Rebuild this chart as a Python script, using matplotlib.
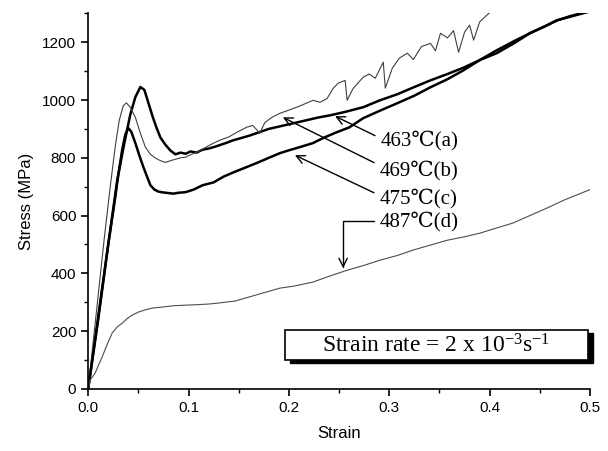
import matplotlib
matplotlib.use("Agg")
import matplotlib.pyplot as plt
from matplotlib.patches import Rectangle
from matplotlib.ticker import MultipleLocator

plt.rcParams['font.family'] = ['Liberation Sans', 'DejaVu Sans']
plt.rcParams['mathtext.default'] = 'regular'

# curve (a) 463C - thick, highest peak
strain_a = [0, 0.01, 0.02, 0.029, 0.036, 0.042, 0.047, 0.052, 0.056, 0.060, 0.064, 0.068,
            0.072, 0.077, 0.082, 0.087, 0.092, 0.097, 0.102, 0.108, 0.114, 0.120, 0.126,
            0.132, 0.138, 0.144, 0.150, 0.160, 0.170, 0.180, 0.190, 0.200, 0.210, 0.220,
            0.230, 0.241, 0.255, 0.274, 0.290, 0.308, 0.325, 0.341, 0.358, 0.374, 0.390,
            0.407, 0.425, 0.440, 0.455, 0.467, 0.480, 0.497, 0.5]
stress_a = [0, 250, 500, 723, 850, 950, 1010, 1045, 1035, 990, 945, 905,
            870, 845, 825, 812, 818, 814, 822, 818, 828, 832, 838,
            845, 852, 860, 866, 876, 888, 900, 908, 916, 924, 932,
            940, 947, 958, 975, 998, 1020, 1045, 1068, 1090, 1112, 1138,
            1162, 1198, 1231, 1255, 1275, 1290, 1305, 1308]

# curve (b) 469C - thin, serrated
strain_b = [0, 0.008, 0.016, 0.022, 0.027, 0.031, 0.035, 0.038, 0.042, 0.047, 0.052, 0.057,
            0.062, 0.067, 0.072, 0.077, 0.082, 0.087, 0.092, 0.097, 0.103, 0.110, 0.118,
            0.125, 0.132, 0.140, 0.148, 0.158, 0.164, 0.171, 0.176, 0.183, 0.191, 0.200,
            0.210, 0.218, 0.224, 0.231, 0.238, 0.244, 0.249, 0.256, 0.258, 0.264, 0.274,
            0.280, 0.286, 0.294, 0.296, 0.303, 0.310, 0.318, 0.324, 0.332, 0.341, 0.346,
            0.351, 0.358, 0.364, 0.369, 0.375, 0.380, 0.384, 0.390, 0.396, 0.403]
stress_b = [0, 260, 520, 700, 840, 930, 980, 990, 975, 940, 885, 837,
            812, 799, 790, 784, 790, 795, 800, 802, 812, 822, 838,
            851, 862, 872, 888, 906, 912, 885, 922, 940, 954, 965,
            978, 990, 999, 992, 1005, 1040, 1058, 1068, 999, 1040, 1079,
            1090, 1075, 1131, 1041, 1110, 1145, 1162, 1140, 1185, 1196, 1170,
            1231, 1215, 1240, 1165, 1235, 1259, 1207, 1270, 1290, 1311]

# curve (c) 475C - thick, lowest peak
strain_c = [0, 0.01, 0.02, 0.026, 0.030, 0.034, 0.037, 0.040, 0.043, 0.047, 0.051, 0.055,
            0.059, 0.062, 0.066, 0.070, 0.075, 0.080, 0.085, 0.090, 0.097, 0.105, 0.114,
            0.125, 0.135, 0.145, 0.158, 0.170, 0.180, 0.191, 0.200, 0.210, 0.224, 0.235,
            0.248, 0.260, 0.274, 0.290, 0.308, 0.325, 0.341, 0.358, 0.374, 0.390, 0.407,
            0.425, 0.440, 0.455, 0.467, 0.480, 0.497, 0.5]
stress_c = [0, 240, 500, 640, 740, 830, 880, 903, 890, 851, 808, 768,
            732, 705, 690, 683, 680, 678, 676, 679, 681, 690, 705,
            715, 735, 750, 768, 785, 800, 816, 826, 836, 851, 870,
            889, 905, 937, 962, 989, 1015, 1044, 1072, 1103, 1138, 1172,
            1205, 1231, 1255, 1276, 1288, 1304, 1306]

# curve (d) 487C - thin, low
strain_d = [0, 0.002, 0.007, 0.010, 0.014, 0.019, 0.024, 0.029, 0.034, 0.039, 0.044, 0.050,
            0.057, 0.064, 0.075, 0.085, 0.097, 0.110, 0.120, 0.129, 0.138, 0.146, 0.160,
            0.175, 0.191, 0.205, 0.224, 0.240, 0.258, 0.275, 0.291, 0.308, 0.324, 0.340,
            0.358, 0.374, 0.390, 0.405, 0.423, 0.440, 0.457, 0.475, 0.490, 0.5]
stress_d = [0, 31, 55, 80, 111, 155, 194, 215, 228, 244, 256, 266,
            274, 280, 284, 288, 290, 292, 294, 297, 301, 304, 318,
            333, 349, 356, 370, 390, 411, 428, 446, 462, 481, 497,
            515, 526, 539, 555, 574, 600, 626, 655, 676, 690]

labels = ['463℃(a)', '469℃(b)', '475℃(c)', '487℃(d)']
label_pos = [(0.291, 861), (0.290, 757), (0.290, 660), (0.290, 581)]
arrow_tip = [(0.246, 944), (0.194, 940), (0.206, 809), (0.254, 418)]

fig = plt.figure(figsize=(6.08, 4.51), dpi=100)
ax = fig.add_axes([0.145, 0.1375, 0.8255, 0.833])

ax.plot(strain_a, stress_a, color='black', lw=1.8)
ax.plot(strain_b, stress_b, color='0.25', lw=0.8)
ax.plot(strain_c, stress_c, color='black', lw=1.8)
ax.plot(strain_d, stress_d, color='0.3', lw=0.8)

serif = ['Liberation Serif', 'DejaVu Serif', 'Noto Sans CJK SC']
relp = [(0, 0.6), (0, 0.75), (0, 0.65), (0, 0.5)]
for i in range(4):
    if i == 3:
        cs = "angle,angleA=0,angleB=90,rad=0"
    else:
        cs = "arc3"
    ax.annotate(labels[i], xy=arrow_tip[i], xytext=label_pos[i], va='center', ha='left',
                fontsize=15, family=serif,
                arrowprops=dict(arrowstyle='->', color='black', lw=1,
                                connectionstyle=cs, relpos=relp[i],
                                shrinkA=2, shrinkB=0))

# strain-rate box with shadow
ax.add_patch(Rectangle((0.201, 90), 0.302, 104, transform=ax.transData,
                       facecolor='black', edgecolor='black', clip_on=False, zorder=4))
ax.add_patch(Rectangle((0.196, 100), 0.302, 104, transform=ax.transData,
                       facecolor='white', edgecolor='black', lw=1.2, clip_on=False, zorder=5))
ax.text(0.347, 150, 'Strain rate = 2 x 10$^{-3}$s$^{-1}$', ha='center', va='center',
        fontsize=17, family=serif, zorder=6)

ax.set_xlim(0, 0.5)
ax.set_ylim(0, 1300)
ax.spines['top'].set_visible(False)
ax.spines['right'].set_visible(False)
ax.spines['left'].set_linewidth(1.2)
ax.spines['bottom'].set_linewidth(1.2)
ax.xaxis.set_major_locator(MultipleLocator(0.1))
ax.xaxis.set_minor_locator(MultipleLocator(0.05))
ax.yaxis.set_major_locator(MultipleLocator(200))
ax.yaxis.set_minor_locator(MultipleLocator(100))
ax.set_yticks([0, 200, 400, 600, 800, 1000, 1200])
ax.xaxis.set_major_formatter(plt.FuncFormatter(lambda v, p: '%.1f' % v))
ax.tick_params(which='major', direction='out', length=5, width=1.2, labelsize=11)
ax.tick_params(which='minor', direction='out', length=3, width=1)

ax.set_xlabel('Strain', fontsize=12, labelpad=8)
ax.set_ylabel('Stress (MPa)', fontsize=12, labelpad=6)

plt.savefig('out.png', dpi=100)
